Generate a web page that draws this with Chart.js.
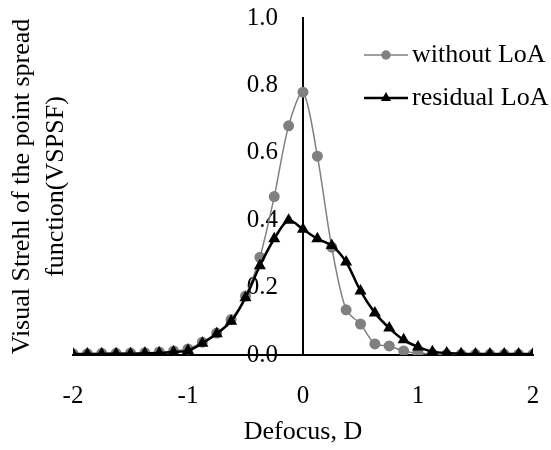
<!DOCTYPE html>
<html>
<head>
<meta charset="utf-8">
<script src="https://cdn.jsdelivr.net/npm/chart.js@4"></script>
<style>
  html, body { margin: 0; padding: 0; background: #fff; }
  #wrap { width: 551px; height: 450px; }
</style>
</head>
<body>
<div id="wrap"><canvas id="c" width="551" height="450"></canvas></div>
<script>
const defocus = [-2, -1.875, -1.75, -1.625, -1.5, -1.375, -1.25, -1.125, -1, -0.875, -0.75, -0.625, -0.5, -0.375, -0.25, -0.125, 0, 0.125, 0.25, 0.375, 0.5, 0.625, 0.75, 0.875, 1, 1.125, 1.25, 1.375, 1.5, 1.625, 1.75, 1.875, 2];
const withoutLoA = [0.004, 0.004, 0.005, 0.005, 0.006, 0.007, 0.009, 0.012, 0.018, 0.038, 0.065, 0.105, 0.175, 0.29, 0.47, 0.68, 0.78, 0.59, 0.32, 0.134, 0.092, 0.033, 0.027, 0.012, 0.006, 0.003, 0.002, 0.002, 0.002, 0.002, 0.002, 0.002, 0.002];
const residualLoA = [0.003, 0.003, 0.003, 0.004, 0.004, 0.005, 0.006, 0.009, 0.013, 0.035, 0.063, 0.10, 0.17, 0.265, 0.345, 0.40, 0.373, 0.345, 0.325, 0.276, 0.19, 0.125, 0.08, 0.045, 0.024, 0.01, 0.006, 0.004, 0.003, 0.003, 0.003, 0.003, 0.003];
const seriesLabels = ['without LoA', 'residual LoA'];
const xTicks = [-2, -1, 0, 1, 2];
const yTicks = [0, 0.2, 0.4, 0.6, 0.8, 1.0];
const xTitle = 'Defocus, D';
const yTitle = ['Visual Strehl of the point spread', 'function(VSPSF)'];

const FONT = 'Liberation Serif';

const legendPlugin = {
  id: 'lineLegend',
  afterDraw(chart) {
    const ctx = chart.ctx;
    const items = [
      { ds: chart.data.datasets[0], y: 55 },
      { ds: chart.data.datasets[1], y: 98 }
    ];
    ctx.save();
    items.forEach(it => {
      const ds = it.ds;
      ctx.strokeStyle = ds.borderColor;
      ctx.lineWidth = ds.borderWidth;
      ctx.beginPath();
      ctx.moveTo(364, it.y);
      ctx.lineTo(408, it.y);
      ctx.stroke();
      ctx.fillStyle = ds.pointBackgroundColor;
      ctx.strokeStyle = ds.pointBorderColor;
      Chart.helpers.drawPoint(ctx, {
        pointStyle: ds.pointStyle,
        radius: ds.pointRadius * 0.85,
        borderWidth: 0
      }, 386, it.y);
      ctx.fillStyle = '#000';
      ctx.font = '26px "' + FONT + '"';
      ctx.textAlign = 'left';
      ctx.textBaseline = 'middle';
      ctx.fillText(ds.label, 412, it.y);
    });
    ctx.restore();
  }
};

new Chart(document.getElementById('c'), {
  type: 'line',
  data: {
    labels: defocus,
    datasets: [
      {
        label: seriesLabels[0],
        data: defocus.map((x, i) => ({ x: x, y: withoutLoA[i] })),
        borderColor: '#808080',
        backgroundColor: '#808080',
        pointBackgroundColor: '#808080',
        pointBorderColor: '#808080',
        borderWidth: 1.5,
        pointStyle: 'circle',
        pointRadius: 5.5,
        pointBorderWidth: 0,
        tension: 0.3,
        order: 2
      },
      {
        label: seriesLabels[1],
        data: defocus.map((x, i) => ({ x: x, y: residualLoA[i] })),
        borderColor: '#000000',
        backgroundColor: '#000000',
        pointBackgroundColor: '#000000',
        pointBorderColor: '#000000',
        borderWidth: 2.5,
        pointStyle: 'triangle',
        pointRadius: 7,
        pointBorderWidth: 0,
        tension: 0.3,
        order: 1
      }
    ]
  },
  options: {
    responsive: false,
    devicePixelRatio: 1,
    animation: false,
    events: [],
    layout: { padding: { left: 1, right: 18, top: 3, bottom: 0 } },
    plugins: { legend: { display: false }, tooltip: { enabled: false } },
    scales: {
      x: {
        type: 'linear',
        position: 'bottom',
        min: -2, max: 2,
        afterBuildTicks: (s) => { s.ticks = xTicks.map(v => ({ value: v })); },
        ticks: {
          padding: 3,
          color: '#000',
          font: { family: FONT, size: 25, lineHeight: 3.04 },
          callback: (v) => String(v)
        },
        grid: { display: false, drawTicks: false },
        border: { display: true, color: '#000', width: 2 },
        title: {
          display: true, text: xTitle, color: '#000',
          font: { family: FONT, size: 26 },
          padding: { top: 0, bottom: 2 }
        },
        afterFit: (s) => { s.height = 95; }
      },
      yTitleAxis: {
        type: 'linear',
        position: 'left',
        min: 0, max: 1,
        ticks: { display: false },
        grid: { display: false, drawTicks: false },
        border: { display: false },
        title: {
          display: true, text: yTitle, color: '#000',
          font: { family: FONT, size: 26, lineHeight: 1.3077 },
          padding: { top: 4, bottom: 4 }
        },
        afterFit: (s) => { s.width = 72; }
      },
      y: {
        type: 'linear',
        position: { x: 0 },
        min: 0, max: 1,
        afterBuildTicks: (s) => { s.ticks = yTicks.map(v => ({ value: v })); },
        ticks: {
          color: '#000',
          font: { family: FONT, size: 25 },
          callback: (v) => Number(v).toFixed(1) + '\u2003'
        },
        grid: { display: false, drawTicks: false },
        border: { display: true, color: '#000', width: 2 },
        afterFit: (s) => { s.width = 0; }
      }
    }
  },
  plugins: [legendPlugin]
});
</script>
</body>
</html>
